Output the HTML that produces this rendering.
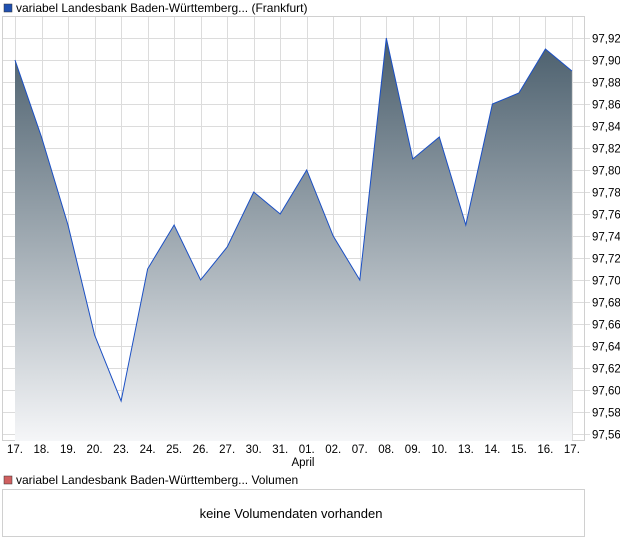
<!DOCTYPE html>
<html><head><meta charset="utf-8"><style>
body{margin:0;background:#fff;width:620px;height:546px;overflow:hidden;font-family:"Liberation Sans",sans-serif;}
</style></head><body>
<svg width="620" height="546" xmlns="http://www.w3.org/2000/svg" font-family="Liberation Sans, sans-serif" font-size="12" fill="#000">
<defs><linearGradient id="g" x1="0" y1="38" x2="0" y2="441" gradientUnits="userSpaceOnUse">
<stop offset="0" stop-color="#4a5e6c"/><stop offset="1" stop-color="#f5f6f8"/></linearGradient></defs>
<rect x="4" y="4" width="8" height="8" fill="#2050b0" stroke="#333" stroke-width="0.5"/>
<text x="16" y="12">variabel Landesbank Baden-Württemberg... (Frankfurt)</text>
<g id="grid" stroke="#dcdcdc" stroke-width="1"></g>
<rect x="2.5" y="16.5" width="582" height="424" fill="none" stroke="#d0d0d0"/>
<path id="area" fill="url(#g)"/>
<polyline id="line" fill="none" stroke="#1a4fc4" stroke-width="1"/>
<g id="yl" font-size="11.5"></g>
<g id="xl" font-size="11.5" text-anchor="middle"></g>
<text x="303" y="466" font-size="11.5" text-anchor="middle">April</text>
<rect x="4" y="476" width="8" height="8" fill="#d06060" stroke="#333" stroke-width="0.5"/>
<text x="16" y="484">variabel Landesbank Baden-Württemberg... Volumen</text>
<rect x="2.5" y="489.5" width="582" height="47" fill="none" stroke="#d0d0d0"/>
<text x="291" y="518" font-size="13" text-anchor="middle">keine Volumendaten vorhanden</text>
</svg>
<script>
var v=[97.90,97.83,97.75,97.65,97.59,97.71,97.75,97.70,97.73,97.78,97.76,97.80,97.74,97.70,97.92,97.81,97.83,97.75,97.86,97.87,97.91,97.89];
var lab=["17.","18.","19.","20.","23.","24.","25.","26.","27.","30.","31.","01.","02.","07.","08.","09.","10.","13.","14.","15.","16.","17."];
function X(i){return 15+i*26.52;}function Y(p){return 38+(97.92-p)/0.02*22;}
var ns="http://www.w3.org/2000/svg",g=document.getElementById("grid"),yl=document.getElementById("yl"),xl=document.getElementById("xl");
function el(t,a,p,tx){var e=document.createElementNS(ns,t);for(var k in a)e.setAttribute(k,a[k]);if(tx)e.textContent=tx;p.appendChild(e);}
for(var i=0;i<22;i++){var x=Math.round(X(i))+0.5;el("line",{x1:x,x2:x,y1:16,y2:441},g);el("text",{x:X(i),y:453},xl,lab[i]);}
for(var j=0;j<=18;j++){var p=97.92-j*0.02,y=Math.round(Y(p))+0.5;el("line",{x1:2,x2:590,y1:y,y2:y},g);el("text",{x:592,y:y+4},yl,p.toFixed(2).replace(".",","));}
var pts=v.map(function(p,i){return X(i).toFixed(1)+","+Y(p).toFixed(1);});
document.getElementById("line").setAttribute("points",pts.join(" "));
document.getElementById("area").setAttribute("d","M"+X(0)+",441 L"+pts.join(" L")+" L"+X(21)+",441Z");
</script>
</body></html>
